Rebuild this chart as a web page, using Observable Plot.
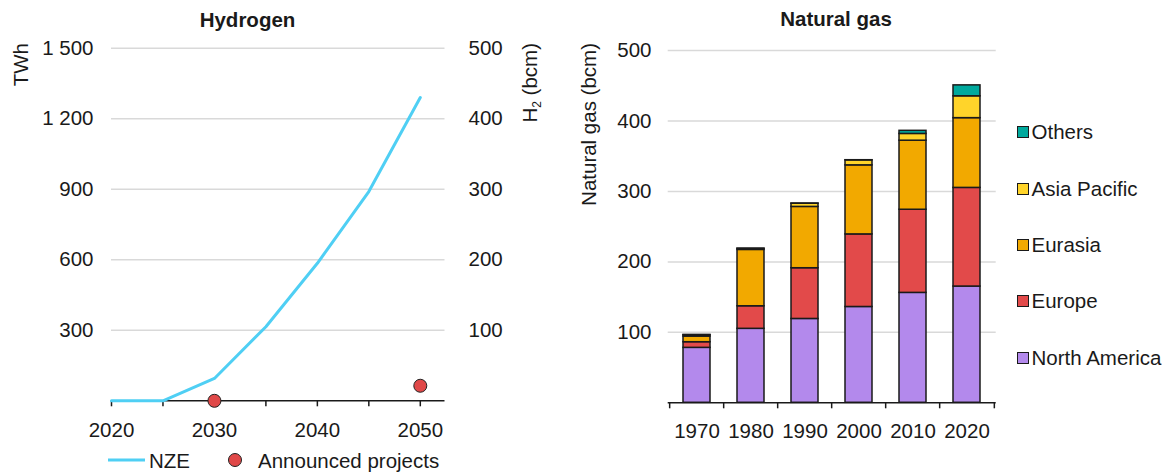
<!DOCTYPE html>
<html><head><meta charset="utf-8">
<script src="https://cdn.jsdelivr.net/npm/d3@7"></script>
<script src="https://cdn.jsdelivr.net/npm/@observablehq/plot@0.6"></script>
<style>
body{margin:0;background:#fff;}
#root{position:relative;width:1172px;height:475px;font-family:"Liberation Sans",Arial,sans-serif;color:#1a1a1a;overflow:hidden;background:#fff;}
.leg{position:absolute;font-size:20.5px;line-height:24px;height:24px;white-space:nowrap;}
.sw{position:absolute;left:0;top:6px;width:10px;height:10px;border:1.5px solid #1a1a1a;}
</style></head><body><div id="root"></div>
<script>
// ---- Hydrogen panel data ----
const h2Years = [2020, 2025, 2030, 2035, 2040, 2045, 2050];
const nzeTWh = [0, 0, 95, 315, 585, 890, 1290];
const projectYears = [2030, 2050];
const projectTWh = [0, 64];
const twhTicks = [300, 600, 900, 1200, 1500];
const bcmTicks = [100, 200, 300, 400, 500];
const twhPerBcm = 3;
const h2XTicks = [2020, 2025, 2030, 2035, 2040, 2045, 2050];

// ---- Natural gas panel data ----
const gasYears = ["1970", "1980", "1990", "2000", "2010", "2020"];
const regions = ["North America", "Europe", "Eurasia", "Asia Pacific", "Others"];
const northAmerica = [78, 105, 119, 136, 156, 165];
const europe = [8, 32, 72, 103, 118, 140];
const eurasia = [8, 80, 87, 98, 98, 99];
const asiaPacific = [2, 1.5, 4.5, 7, 9.6, 31];
const others = [0.3, 0.3, 0.3, 0.3, 4.4, 15.5];
const gasTicks = [100, 200, 300, 400, 500];
const regionColors = ["#b389ec", "#e24a4a", "#f2a900", "#ffd42a", "#00a99d"];

const FONT = "'Liberation Sans', Arial, sans-serif";
const FS = "20.5px";
const root = document.getElementById("root");
const baseStyle = {fontSize: FS, fontFamily: FONT, color: "#1a1a1a", background: "none", overflow: "visible"};

// ---- Left: Hydrogen ----
const nzeRows = h2Years.map((y, i) => ({year: y, twh: nzeTWh[i]}));
const projRows = projectYears.map((y, i) => ({year: y, twh: projectTWh[i]}));
const spaceFmt = d => d3.format(",")(d).replace(/,/g, " ");

const left = Plot.plot({
  width: 560, height: 475,
  marginLeft: 111, marginRight: 115.5, marginTop: 47.7, marginBottom: 74.7,
  style: baseStyle,
  x: {domain: [2020, 2052.4]},
  y: {domain: [0, 1500]},
  marks: [
    Plot.gridY(twhTicks, {stroke: "#d9d9d9", strokeOpacity: 1, strokeWidth: 1.5}),
    Plot.axisY(twhTicks, {anchor: "left", tickSize: 0, tickPadding: 18, tickFormat: spaceFmt, label: null}),
    Plot.axisY(bcmTicks.map(d => d * twhPerBcm), {anchor: "right", tickSize: 0, tickPadding: 23.5, tickFormat: d => String(Math.round(d / twhPerBcm)), label: null}),
    Plot.ruleY([0], {stroke: "#1a1a1a", strokeWidth: 1.5}),
    Plot.axisX(h2XTicks, {tickSize: 6, tickPadding: 15.4, strokeWidth: 1.5, tickFormat: d => d % 10 === 0 ? String(d) : "", label: null}),
    Plot.line(nzeRows, {x: "year", y: "twh", stroke: "#4fcff4", strokeWidth: 3}),
    Plot.dot(projRows, {x: "year", y: "twh", r: 6.5, fill: "#e04848", stroke: "#222", strokeWidth: 1})
  ]
});
left.style.position = "absolute"; left.style.left = "0px"; left.style.top = "0px";
root.appendChild(left);

// ---- Right: Natural gas ----
const series = [northAmerica, europe, eurasia, asiaPacific, others];
const gasRows = gasYears.flatMap((yr, i) => regions.map((r, j) => ({year: yr, region: r, value: series[j][i]})));
const rW = 602, rML = 97.7, rMR = 176.3;
const step = (rW - rML - rMR) / gasYears.length;

const right = Plot.plot({
  width: rW, height: 475,
  marginLeft: rML, marginRight: rMR, marginTop: 50, marginBottom: 72.7,
  style: baseStyle,
  x: {domain: gasYears, paddingInner: 0.5, paddingOuter: 0.25},
  y: {domain: [0, 500]},
  color: {domain: regions, range: regionColors},
  marks: [
    Plot.gridY(gasTicks, {stroke: "#d9d9d9", strokeOpacity: 1, strokeWidth: 1.5}),
    Plot.axisY(gasTicks, {anchor: "left", tickSize: 0, tickPadding: 16.7, label: null}),
    Plot.barY(gasRows, {x: "year", y: "value", fill: "region", stroke: "#1a1a1a", strokeWidth: 1.5, order: regions}),
    Plot.ruleY([0], {stroke: "#1a1a1a", strokeWidth: 1.5}),
    Plot.axisX({tickSize: 0, tickPadding: 21, label: null}),
    Plot.ruleX(gasYears, {x: d => d, dx: -step / 2, y1: 0, y2: 0, insetBottom: -6, stroke: "#1a1a1a", strokeWidth: 1.5}),
    Plot.ruleX(gasYears.slice(-1), {x: d => d, dx: step / 2, y1: 0, y2: 0, insetBottom: -6, stroke: "#1a1a1a", strokeWidth: 1.5})
  ]
});
right.style.position = "absolute"; right.style.left = "570px"; right.style.top = "0px";
root.appendChild(right);

// ---- Overlay texts ----
const ov = d3.select(root).append("svg")
  .attr("width", 1172).attr("height", 475)
  .style("position", "absolute").style("left", 0).style("top", 0)
  .style("font-family", FONT).style("font-size", FS).attr("fill", "#1a1a1a");

ov.append("text").attr("x", 247.5).attr("y", 26.7).attr("text-anchor", "middle").attr("font-weight", "bold").text("Hydrogen");
ov.append("text").attr("x", 836).attr("y", 26).attr("text-anchor", "middle").attr("font-weight", "bold").text("Natural gas");
ov.append("text").attr("transform", "translate(28.3,43) rotate(-90)").attr("text-anchor", "end").text("TWh");
const h2 = ov.append("text").attr("transform", "translate(536.7,43) rotate(-90)").attr("text-anchor", "end");
h2.append("tspan").text("H");
h2.append("tspan").attr("font-size", "12px").attr("dy", 4).text("2");
h2.append("tspan").attr("dy", -4).text(" (bcm)");
ov.append("text").attr("transform", "translate(596,43) rotate(-90)").attr("text-anchor", "end").text("Natural gas (bcm)");

// bottom legend (hydrogen)
ov.append("line").attr("x1", 108).attr("x2", 145).attr("y1", 460).attr("y2", 460).attr("stroke", "#4fcff4").attr("stroke-width", 3);
ov.append("text").attr("x", 149).attr("y", 467.5).text("NZE");
ov.append("circle").attr("cx", 235).attr("cy", 460).attr("r", 6.5).attr("fill", "#e04848").attr("stroke", "#222").attr("stroke-width", 1);
ov.append("text").attr("x", 258).attr("y", 467.5).text("Announced projects");

// right legend (natural gas)
const legendTop = 132.3, legendGap = 56.35;
regions.slice().reverse().forEach((r, k) => {
  const div = document.createElement("div");
  div.className = "leg";
  div.style.left = "1016.5px";
  div.style.top = (legendTop + k * legendGap - 12) + "px";
  const sw = document.createElement("div");
  sw.className = "sw";
  sw.style.background = regionColors[regions.indexOf(r)];
  div.appendChild(sw);
  const t = document.createElement("span");
  t.style.marginLeft = "15px";
  t.textContent = r;
  div.appendChild(t);
  root.appendChild(div);
});
</script></body></html>
